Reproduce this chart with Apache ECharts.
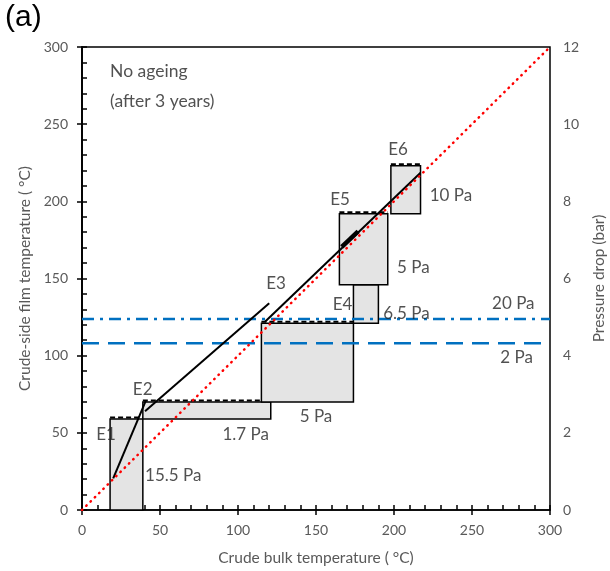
<!DOCTYPE html>
<html>
<head>
<meta charset="utf-8">
<script src="https://cdn.jsdelivr.net/npm/echarts@6/dist/echarts.min.js"></script>
<style>
  html, body { margin: 0; padding: 0; background: #fff; }
  #chart { width: 610px; height: 571px; }
</style>
</head>
<body>
<div id="chart"></div>
<script>
// exchanger boxes: [x start, x end, y low, y high]
const boxes = [
    [18, 39, 0, 59],
    [39, 121, 59, 70],
    [115, 174, 70, 121],
    [174, 190, 121, 146],
    [165, 196, 146, 192],
    [198, 217, 192, 223]
];

// film temperature trend lines
const trendE1 = [[20, 20.5], [41, 71]];
const trendE2 = [[40.4, 64], [120, 134]];
const trendE3 = [[117.3, 122], [217, 218.5]];
const trendE5 = [[166.5, 170.5], [177, 180.5]];
const parity = [[0, 0], [300, 300]];

// pressure drop lines (bar, right axis)
const dp20Pa = [[0, 4.95], [300, 4.95]];
const dp2Pa = [[0, 4.32], [300, 4.32]];

// text labels: [x, y, text]
const labels = [
    [15.4, 48.6, 'E1'],
    [38.9, 77.8, 'E2'],
    [124.4, 147, 'E3'],
    [167, 133, 'E4'],
    [165.4, 201.4, 'E5'],
    [202.6, 233.3, 'E6'],
    [236.5, 204, '10 Pa'],
    [212.4, 157.3, '5 Pa'],
    [208, 127.5, '6.5 Pa'],
    [276.5, 134, '20 Pa'],
    [278.6, 98.7, '2 Pa'],
    [150, 60.3, '5 Pa'],
    [104.9, 49, '1.7 Pa'],
    [58.5, 22.2, '15.5 Pa']
];
const noteLines = [[18, 284, 'No ageing'], [18, 265, '(after 3 years)']];

const font = 'Lato';
const gray = '#595959';

const myChart = echarts.init(document.getElementById('chart'));

const trend = (data, w) => ({
    type: 'line', data: data, symbol: 'none', silent: true,
    lineStyle: { color: '#000', width: w || 2 }, z: 4
});

const option = {
    animation: false,
    textStyle: { fontFamily: font },
    grid: {
        left: 82, right: 60, top: 47, bottom: 61, outerBoundsMode: 'none',
        show: true, borderColor: '#000', borderWidth: 1.5
    },
    graphic: [
        { type: 'text', left: 5, top: 3, style: { text: '(a)', font: '30px "Liberation Sans"', fill: '#000' } }
    ],
    xAxis: [
        {
            type: 'value', min: 0, max: 300, interval: 50,
            name: 'Crude bulk temperature ( °C)', nameLocation: 'middle', nameGap: 40,
            nameTextStyle: { color: gray, fontSize: 15.5, fontFamily: font },
            axisLine: { lineStyle: { color: '#000', width: 1.5 } },
            axisTick: { length: 5, lineStyle: { color: '#000', width: 1.5 } },
            axisLabel: { color: gray, fontSize: 14, margin: 13 },
            splitLine: { show: false }
        },
        {
            type: 'value', min: 0, max: 300, interval: 50, position: 'bottom',
            axisLine: { show: false },
            axisTick: { inside: true, length: 5, lineStyle: { color: '#000', width: 1.5 } },
            minorTick: { show: true, splitNumber: 5, length: 5, lineStyle: { color: '#000', width: 1.5 } },
            axisLabel: { show: false },
            splitLine: { show: false }
        }
    ],
    yAxis: [
        {
            type: 'value', min: 0, max: 300, interval: 50,
            name: 'Crude-side film temperature ( °C)', nameLocation: 'middle', nameGap: 49,
            nameTextStyle: { color: gray, fontSize: 15.5, fontFamily: font },
            axisLine: { show: true, lineStyle: { color: '#000', width: 1.5 } },
            axisTick: { show: true, length: 5, lineStyle: { color: '#000', width: 1.5 } },
            axisLabel: { color: gray, fontSize: 14, margin: 14 },
            splitLine: { show: false }
        },
        {
            type: 'value', min: 0, max: 12, interval: 2, position: 'right',
            name: 'Pressure drop (bar)', nameLocation: 'middle', nameGap: 41, nameRotate: 90,
            nameTextStyle: { color: gray, fontSize: 15.5, fontFamily: font },
            axisLine: { show: true, lineStyle: { color: '#000', width: 1.5 } },
            axisTick: { show: true, length: 5, lineStyle: { color: '#000', width: 1.5 } },
            axisLabel: { color: gray, fontSize: 14, margin: 13 },
            splitLine: { show: false }
        },
        {
            type: 'value', min: 0, max: 300, interval: 50, position: 'left',
            axisLine: { show: false },
            axisTick: { show: true, inside: true, length: 5, lineStyle: { color: '#000', width: 1.5 } },
            minorTick: { show: true, splitNumber: 5, length: 5, lineStyle: { color: '#000', width: 1.5 } },
            axisLabel: { show: false },
            splitLine: { show: false }
        }
    ],
    series: [
        {
            type: 'custom', data: boxes, z: 2, silent: true,
            encode: { x: [0, 1], y: [2, 3] },
            renderItem: function (params, api) {
                const p0 = api.coord([api.value(0), api.value(3)]);
                const p1 = api.coord([api.value(1), api.value(2)]);
                return {
                    type: 'group',
                    children: [
                        {
                            type: 'rect',
                            shape: { x: p0[0], y: p0[1], width: p1[0] - p0[0], height: p1[1] - p0[1] },
                            style: { fill: '#e4e4e4', stroke: '#000', lineWidth: 1.5 }
                        },
                        {
                            type: 'line',
                            shape: { x1: p0[0], y1: p0[1] - 1.5, x2: p1[0], y2: p0[1] - 1.5 },
                            style: { stroke: '#000', lineWidth: 2, lineDash: [5, 3] }
                        }
                    ]
                };
            }
        },
        {
            type: 'line', data: dp20Pa, yAxisIndex: 1, symbol: 'none', silent: true, z: 3,
            lineStyle: { color: '#0070c0', width: 2.5, type: [12, 6, 3, 6] }
        },
        {
            type: 'line', data: dp2Pa, yAxisIndex: 1, symbol: 'none', silent: true, z: 3,
            lineStyle: { color: '#0070c0', width: 2.5, type: [17, 9] }
        },
        {
            type: 'line', data: parity, symbol: 'none', silent: true, z: 5,
            lineStyle: { color: '#ff0000', width: 2.5, type: [0.5, 5.5], cap: 'round' }
        },
        trend(trendE1),
        trend(trendE2),
        trend(trendE3),
        trend(trendE5, 4.5),
        {
            type: 'scatter', data: labels, symbolSize: 0, silent: true, z: 6,
            label: {
                show: true, position: 'inside', color: '#262626', fontSize: 17, fontFamily: font,
                formatter: p => p.data[2]
            }
        },
        {
            type: 'scatter', data: noteLines, symbolSize: 0, silent: true, z: 6,
            label: {
                show: true, position: 'right', distance: 0, color: '#262626', fontSize: 17.5, fontFamily: font,
                formatter: p => p.data[2]
            }
        }
    ]
};

myChart.setOption(option);

window.onresize = function () {
    myChart.resize();
};
</script>
</body>
</html>
